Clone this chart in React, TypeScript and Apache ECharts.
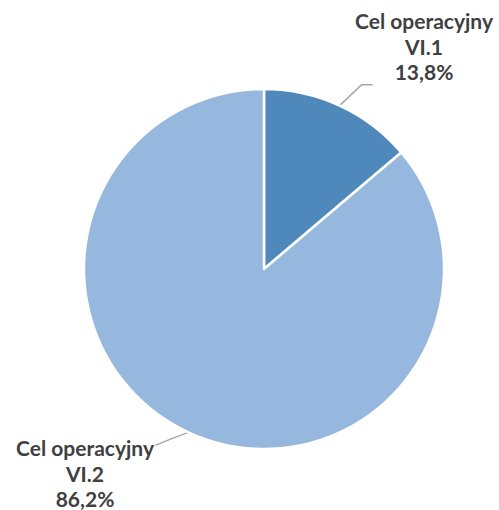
import React, { useEffect, useRef } from "react";
import * as echarts from "echarts";

const categories: string[] = ["Cel operacyjny VI.1", "Cel operacyjny VI.2"];
const shares: number[] = [13.8, 86.2];
const sliceColors: string[] = ["#4F89BC", "#96B8DE"];

function fmtPct(v: number): string {
  return v.toFixed(1).replace(".", ",") + "%";
}

export default function App() {
  const ref = useRef<HTMLDivElement>(null);
  useEffect(() => {
    if (!ref.current) return;
    const chart = echarts.init(ref.current, null, { renderer: "svg" });
    const cx = 264;
    const cy = 269;
    const r = 180;
    chart.setOption({
      animation: false,
      backgroundColor: "#FFFFFF",
      series: [
        {
          type: "pie",
          center: [cx, cy],
          radius: [0, r],
          startAngle: 90,
          clockwise: true,
          avoidLabelOverlap: false,
          data: categories.map((name, i) => ({
            name,
            value: shares[i],
            itemStyle: { color: sliceColors[i] },
          })),
          itemStyle: { borderColor: "#FFFFFF", borderWidth: 2.5 },
          label: {
            show: true,
            position: "outside",
            fontFamily: "Lato",
            fontWeight: "bold",
            fontSize: 21,
            lineHeight: 25.5,
            color: "#404040",
            formatter: (p: any) => {
              const name: string = p.name;
              const k = name.lastIndexOf(" ");
              return name.slice(0, k) + "\n" + name.slice(k + 1) + "\n" + fmtPct(p.value);
            },
          },
          labelLine: {
            show: true,
            length: 30,
            length2: 11,
            lineStyle: { color: "#A6A6A6", width: 1.5 },
          },
          labelLayout: (params: any) => {
            const i = params.dataIndex;
            let start: number[];
            if (params.labelLinePoints && params.labelLinePoints[0]) {
              start = params.labelLinePoints[0];
            } else {
              let acc = 0;
              const total = shares.reduce((a, b) => a + b, 0);
              for (let j = 0; j < i; j++) acc += shares[j];
              const mid = ((acc + shares[i] / 2) / total) * Math.PI * 2;
              start = [cx + r * Math.sin(mid), cy - r * Math.cos(mid)];
            }
            const [ax, ay] = start;
            if (i === 0) {
              return {
                x: 424,
                y: 46,
                align: "center",
                verticalAlign: "middle",
                labelLinePoints: [
                  [ax, ay],
                  [ax + 22, ay - 21],
                  [ax + 33, ay - 21],
                ],
              };
            }
            return {
              x: 85,
              y: 473,
              align: "center",
              verticalAlign: "middle",
              labelLinePoints: [
                [ax, ay],
                [ax - 16, ay + 6],
                [ax - 33, ay + 13],
              ],
            };
          },
        },
      ],
    });
    return () => chart.dispose();
  }, []);
  return (
    <div
      ref={ref}
      style={{ position: "fixed", left: 0, top: 0, width: 499, height: 510, background: "#fff" }}
    />
  );
}
